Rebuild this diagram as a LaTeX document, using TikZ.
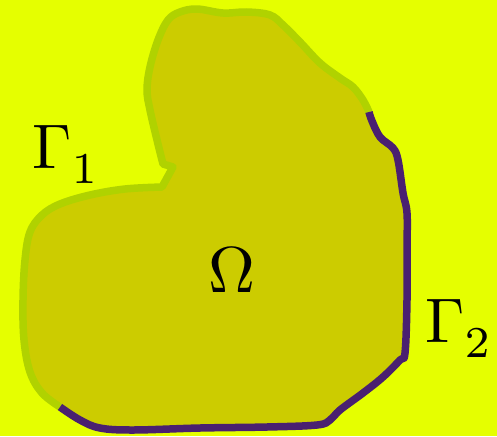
\documentclass[tikz,border=0pt]{standalone}
\usepackage{amsmath, amssymb}
\usepackage{xcolor}
\definecolor{bgyellow}{RGB}{229,255,0}
\definecolor{omegafill}{RGB}{204,204,0}
\definecolor{gammaone}{RGB}{176,210,0}
\definecolor{gammatwo}{RGB}{74,32,112}

\begin{document}
\begin{tikzpicture}[x=1pt,y=-1pt]
\fill[bgyellow] (0,0) rectangle (497,436);
\useasboundingbox (0,0) rectangle (497,436);
% Domain Omega
\fill[omegafill]
  plot[smooth,tension=0.6] coordinates {(60,407) (42,393) (30,372) (24,340) (23,300) (25,260) (30,232) (42,215) (60,204) (90,195) (125,189) (162,187)}
  -- (173,167)
  -- plot[smooth,tension=0.6] coordinates {(163,164) (157,140) (150,110) (147,90) (150,67) (158,40) (168,20) (180,12) (197,9) (223,13) (247,12) (270,15) (283,25) (300,42) (320,63) (340,78) (353,87) (363,100) (369,112)}
  -- plot[smooth,tension=0.6] coordinates {(369,112) (372,121) (380,137) (393,148) (398,160) (403,193) (407,213) (407,250) (407,300) (405,353) (400,360) (383,377) (363,393) (340,410) (330,420) (317,425) (267,427) (200,428) (133,430) (100,428) (80,420) (60,407)}
  -- cycle;
% Boundary part Gamma_1
\draw[gammaone,line width=7.5pt,line join=round]
  plot[smooth,tension=0.6] coordinates {(60,407) (42,393) (30,372) (24,340) (23,300) (25,260) (30,232) (42,215) (60,204) (90,195) (125,189) (162,187)}
  -- (173,167)
  -- plot[smooth,tension=0.6] coordinates {(163,164) (157,140) (150,110) (147,90) (150,67) (158,40) (168,20) (180,12) (197,9) (223,13) (247,12) (270,15) (283,25) (300,42) (320,63) (340,78) (353,87) (363,100) (369,112)};
% Boundary part Gamma_2
\draw[gammatwo,line width=7.5pt,line join=round]
  plot[smooth,tension=0.6] coordinates {(369,112) (372,121) (380,137) (393,148) (398,160) (403,193) (407,213) (407,250) (407,300) (405,353) (400,360) (383,377) (363,393) (340,410) (330,420) (317,425) (267,427) (200,428) (133,430) (100,428) (80,420) (60,407)};
% Labels
\node[anchor=base west,inner sep=0pt,scale=6.3] (gone) at (31,168) {$\Gamma_{\raisebox{-1pt}{$\scriptstyle 1$}}$};
\node[anchor=base,inner sep=0pt,scale=6.5] (omega) at (232,292) {$\Omega$};
\node[anchor=base west,inner sep=0pt,scale=6.3] (gtwo) at (424,342) {$\Gamma_{\raisebox{-1pt}{$\scriptstyle 2$}}$};
\end{tikzpicture}
\end{document}
